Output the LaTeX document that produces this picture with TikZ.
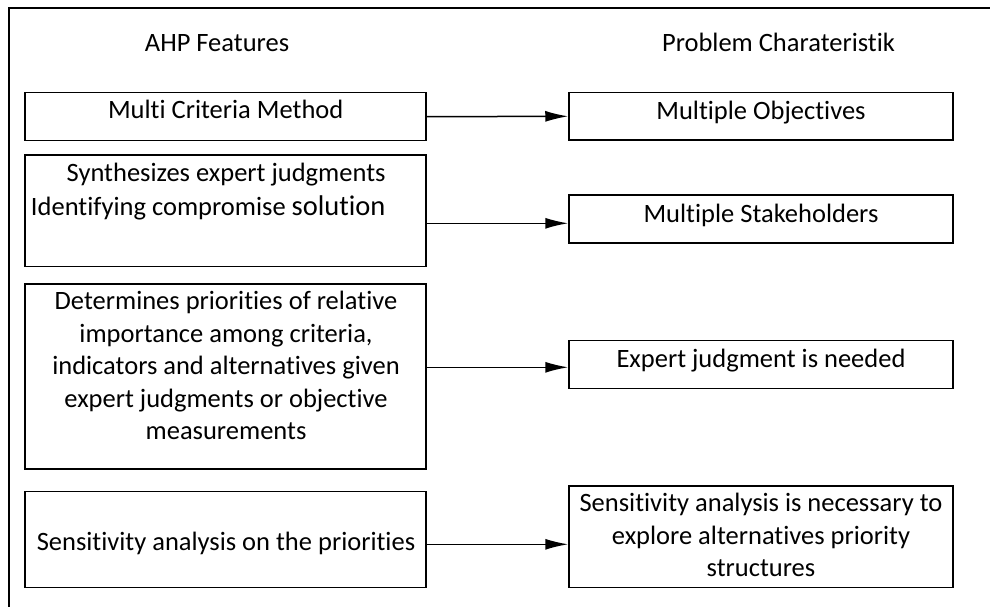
\documentclass[tikz,border=0pt]{standalone}
\usepackage{fontspec}
\setmainfont{Carlito}[Ligatures=NoCommon]
\usetikzlibrary{arrows.meta}
\tikzset{
  box/.style={draw, line width=1.5pt, inner sep=0pt},
  txt/.style={inner sep=0pt, font=\fontsize{26.5}{32.4}\selectfont},
  arr/.style={line width=1.5pt, -{Latex[length=23pt,width=11pt]}},
  frame/.style={line width=1.4pt}
}
\begin{document}
\begin{tikzpicture}[x=1pt,y=-1pt]
\useasboundingbox (0,0) rectangle (990,607);
\draw[frame] (9,607) -- (9,8) -- (990,8);

% headings
\node[txt, anchor=base] (h1) at (217,52) {AHP Features};
\node[txt, anchor=base] (h2) at (778.5,51.7) {Problem Charateristik};

% left boxes
\node[box, minimum width=401pt, minimum height=48pt] (l1) at (225.5,116.7) {};
\node[box, minimum width=401pt, minimum height=111.7pt] (l2) at (225.5,210.8) {};
\node[box, minimum width=401pt, minimum height=185pt] (l3) at (225.5,376.5) {};
\node[box, minimum width=401pt, minimum height=95.6pt] (l4) at (225.5,539.5) {};

% right boxes
\node[box, minimum width=384pt, minimum height=47.6pt] (r1) at (761,116.3) {};
\node[box, minimum width=384pt, minimum height=48pt] (r2) at (761,219) {};
\node[box, minimum width=384pt, minimum height=48pt] (r3) at (761,364.7) {};
\node[box, minimum width=384pt, minimum height=101.3pt] (r4) at (761,536.7) {};

% texts (multi-line nodes: base anchor = baseline of last line)
\node[txt, anchor=base] (t1) at (225.7,119) {Multi Criteria Method};
\node[txt, anchor=base east, align=right] (t2) at (385.7,215.3)
  {Synthesizes expert judgments\\[1.6pt]Identifying compromise {\fontsize{28.5}{32.4}\selectfont solution}};
\node[txt, anchor=base, align=center] (t3) at (226,439.5)
  {Determines priorities of relative\\importance among criteria,\\indicators and alternatives given\\expert judgments or objective\\measurements};
\node[txt, anchor=base] (t4) at (226,550.7) {Sensitivity analysis on the priorities};

\node[txt, anchor=base] (u1) at (761,119.3) {Multiple Objectives};
\node[txt, anchor=base] (u2) at (761,222.3) {Multiple Stakeholders};
\node[txt, anchor=base] (u3) at (761,367.3) {Expert judgment is needed};
\node[txt, anchor=base, align=center] (u4) at (761,576.7)
  {Sensitivity analysis is necessary to\\explore alternatives priority\\structures};

% arrows
\draw[arr] (l1.east) -- (r1.west);
\draw[arr] ([yshift=-12.5pt]l2.east) -- ([yshift=-4.3pt]r2.west);
\draw[arr] ([yshift=9.2pt]l3.east) -- ([yshift=-2.6pt]r3.west);
\draw[arr] ([yshift=-4.8pt]l4.east) -- ([yshift=-7.6pt]r4.west);
\end{tikzpicture}
\end{document}
